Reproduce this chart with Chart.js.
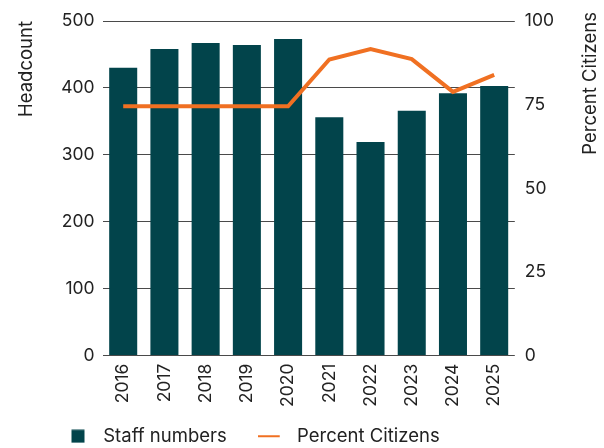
<!DOCTYPE html>
<html>
<head>
<meta charset="utf-8">
<script src="https://cdn.jsdelivr.net/npm/chart.js@4/dist/chart.umd.min.js"></script>
<style>
  html, body { margin: 0; padding: 0; background: #fff; }
  #wrap { width: 604px; height: 448px; }
</style>
</head>
<body>
<div id="wrap"><canvas id="chart"></canvas></div>
<script>
var years = ['2016', '2017', '2018', '2019', '2020', '2021', '2022', '2023', '2024', '2025'];
var staffNumbers = [430, 458, 467, 464, 473, 356, 319, 366, 392, 403];
var percentCitizens = [74.5, 74.5, 74.5, 74.5, 74.5, 88.5, 91.6, 88.6, 78.8, 83.9];
var headcountTicks = [0, 100, 200, 300, 400, 500];
var percentTicks = [0, 25, 50, 75, 100];
var rightTitle = 'Percent Citizens';

var teal = '#02444b';
var orange = '#f07022';
var textColor = '#222';
var fontFam = 'Inter, "Open Sans", sans-serif';

// small legend swatches, drawn a bit left of centre so the gap to the text is wider
function swatch(kind) {
    var cv = document.createElement('canvas');
    cv.width = 30;
    cv.height = 14;
    var c = cv.getContext('2d');
    if (kind == 'box') {
        c.fillStyle = teal;
        c.fillRect(7.5, 0.5, 13, 13);
    } else {
        c.fillStyle = orange;
        c.fillRect(0, 6, 22, 2);
    }
    return cv;
}
var boxSwatch = swatch('box');
var lineSwatch = swatch('line');

// move the legend where the original has it and draw the right axis title bottom-to-top
var tweaks = {
    id: 'tweaks',
    afterLayout: function(chart) {
        if (chart.legend) {
            chart.legend.left = 33;
            chart.legend.top = 396;
        }
    },
    afterDraw: function(chart) {
        var c = chart.ctx;
        c.save();
        c.translate(590, 12);
        c.rotate(-Math.PI / 2);
        c.textAlign = 'right';
        c.textBaseline = 'middle';
        c.fillStyle = textColor;
        c.font = '18.5px ' + fontFam;
        c.fillText(rightTitle, 0, 0);
        c.restore();
    }
};

var ctx = document.getElementById('chart').getContext('2d');
new Chart(ctx, {
    type: 'bar',
    data: {
        labels: years,
        datasets: [{
            type: 'bar',
            label: 'Staff numbers',
            data: staffNumbers,
            backgroundColor: teal,
            borderWidth: 0,
            yAxisID: 'y',
            categoryPercentage: 1,
            barPercentage: 0.68,
            pointStyle: boxSwatch,
            order: 2
        }, {
            type: 'line',
            label: 'Percent Citizens',
            data: percentCitizens,
            borderColor: orange,
            backgroundColor: orange,
            borderWidth: 4,
            pointRadius: 0,
            tension: 0,
            yAxisID: 'y1',
            pointStyle: lineSwatch,
            order: 1
        }]
    },
    options: {
        responsive: true,
        maintainAspectRatio: false,
        animation: false,
        layout: { padding: { left: 15, right: 0, top: 21, bottom: 0 } },
        plugins: {
            tooltip: { enabled: false },
            legend: {
                position: 'bottom',
                align: 'start',
                maxHeight: 33,
                labels: {
                    sort: function(a, b) { return a.datasetIndex - b.datasetIndex; },
                    usePointStyle: true,
                    pointStyleWidth: 30,
                    boxHeight: 14,
                    padding: 31,
                    color: textColor,
                    font: { family: fontFam, size: 18.5 }
                }
            }
        },
        scales: {
            x: {
                grid: { display: false, drawTicks: false },
                border: { display: false },
                ticks: {
                    color: textColor,
                    font: { family: fontFam, size: 17.5 },
                    minRotation: 90,
                    maxRotation: 90,
                    padding: 8
                }
            },
            y: {
                position: 'left',
                min: 0,
                max: 500,
                afterBuildTicks: function(axis) {
                    axis.ticks = headcountTicks.map(function(v) { return { value: v }; });
                },
                grid: { color: '#4a4a4a', lineWidth: 1, drawTicks: false },
                border: { display: false },
                ticks: {
                    color: textColor,
                    font: { family: fontFam, size: 17.5 },
                    padding: 8
                },
                title: {
                    display: true,
                    text: 'Headcount',
                    align: 'end',
                    color: textColor,
                    font: { family: fontFam, size: 18.5 },
                    padding: { top: 0, bottom: 16 }
                }
            },
            y1: {
                position: 'right',
                min: 0,
                max: 100,
                afterBuildTicks: function(axis) {
                    axis.ticks = percentTicks.map(function(v) { return { value: v }; });
                },
                afterFit: function(axis) {
                    axis.width += 40;
                },
                grid: { display: false, drawTicks: false },
                border: { display: false },
                ticks: {
                    color: textColor,
                    font: { family: fontFam, size: 17.5 },
                    padding: 10
                }
            }
        }
    },
    plugins: [tweaks]
});
</script>
</body>
</html>
